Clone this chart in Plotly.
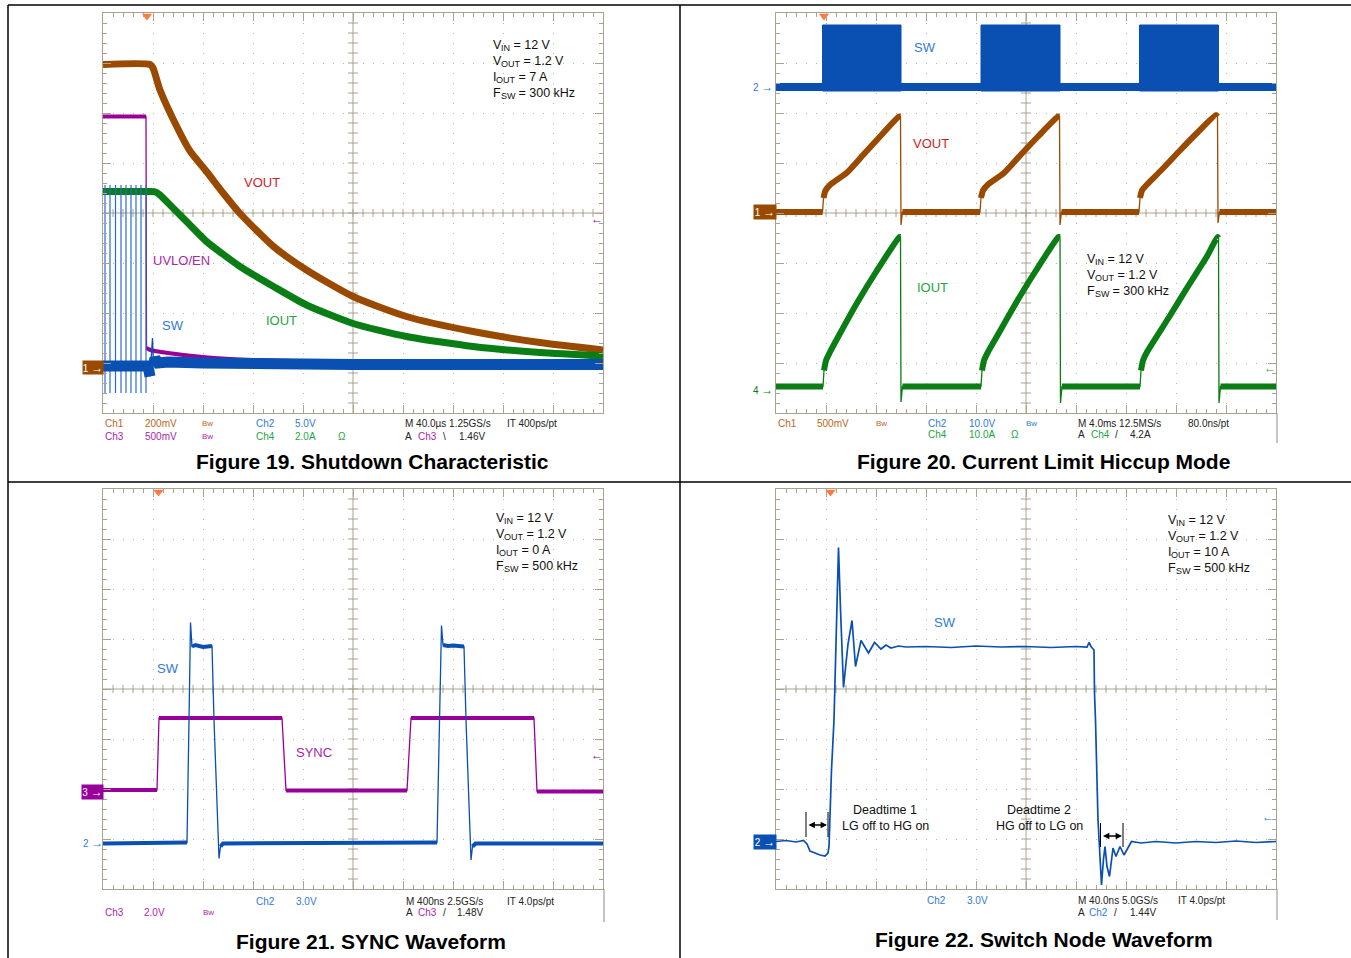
import plotly.graph_objects as go

W, H = 1351, 958
FONT = "Arial, 'Liberation Sans', sans-serif"

# ---------------- colours ----------------
BROWN = "#9a4a00"
PURPLE = "#990099"
GREEN = "#0a7d14"
BLUE = "#0a4fb2"
GRAT = "#aaa38f"
GRIDDOT = "#b9b3a2"
L_BROWN = "#c0651c"
L_BLUE = "#2f7ad6"
L_PURPLE = "#a926a9"
L_GREEN = "#23a441"
L_RED = "#cc1f1f"

# ---------------- data (scope divisions: time 0..10, amplitude 0..8) ----------------
# Figure 19 - shutdown characteristic
f19_vout_t = [0, 0.94, 1.0, 1.14, 1.5, 1.74, 2.07, 2.41, 2.74, 3.41, 4.07, 5.0, 6.07, 7.4, 8.74, 10]
f19_vout_v = [6.97, 6.97, 6.9, 6.46, 5.68, 5.24, 4.83, 4.39, 3.99, 3.33, 2.86, 2.33, 1.93, 1.63, 1.41, 1.26]
f19_iout_t = [0, 0.95, 1.05, 1.14, 1.41, 1.74, 2.07, 2.74, 3.41, 4.07, 5.0, 6.07, 7.4, 8.74, 10]
f19_iout_v = [4.43, 4.43, 4.42, 4.36, 4.09, 3.76, 3.43, 2.93, 2.53, 2.16, 1.79, 1.53, 1.33, 1.21, 1.14]
f19_en_t = [0, 0.86, 0.87, 0.95, 1.3, 2.0, 3.0, 5.0, 10]
f19_en_v = [5.93, 5.93, 1.3, 1.26, 1.2, 1.12, 1.06, 1.02, 1.0]
f19_sw_t = [0, 0.9, 0.94, 0.99, 1.01, 1.04, 1.1, 1.3, 2.0, 3.5, 5.0, 10]
f19_sw_v = [0.94, 0.94, 0.73, 1.5, 0.95, 1.1, 1.0, 1.02, 1.0, 0.98, 0.97, 0.97]
f19_pulse_t = [0.04, 0.14, 0.25, 0.36, 0.46, 0.56, 0.66, 0.76, 0.86]
f19_pulse_hi = 4.56
f19_pulse_lo = 0.4

# Figure 20 - current limit hiccup mode
f20_sw_on = [0.93, 4.1, 7.27]
f20_sw_off = [2.5, 5.68, 8.85]
f20_sw_top = 7.76
f20_sw_bottom = 6.44
f20_sw_base = 6.52
f20_vout_t = [0, 0.93, 0.95, 0.99, 1.1, 1.41, 1.75, 2.08, 2.46, 2.49, 2.50, 2.53,
              4.08, 4.10, 4.14, 4.25, 4.56, 4.90, 5.24, 5.64, 5.67, 5.68, 5.71,
              7.26, 7.28, 7.32, 7.43, 7.70, 8.05, 8.41, 8.80, 8.83, 8.84, 8.87, 10]
f20_vout_v = [4.02, 4.02, 4.3, 4.45, 4.58, 4.8, 5.17, 5.53, 5.93, 5.93, 3.76, 4.02,
              4.02, 4.3, 4.45, 4.58, 4.8, 5.17, 5.53, 5.93, 5.93, 3.76, 4.02,
              4.02, 4.3, 4.45, 4.58, 4.85, 5.22, 5.59, 5.96, 5.93, 3.8, 4.02, 4.02]
f20_iout_t = [0, 0.94, 0.96, 1.0, 1.08, 1.23, 1.62, 2.0, 2.47, 2.49, 2.50, 2.53,
              4.10, 4.12, 4.16, 4.24, 4.40, 4.80, 5.18, 5.65, 5.68, 5.69, 5.72,
              7.28, 7.30, 7.34, 7.42, 7.85, 8.25, 8.63, 8.83, 8.85, 8.86, 8.89, 10]
f20_iout_v = [0.53, 0.53, 0.85, 1.05, 1.22, 1.5, 2.2, 2.82, 3.52, 3.52, 0.22, 0.53,
              0.53, 0.85, 1.05, 1.22, 1.5, 2.2, 2.82, 3.52, 3.52, 0.2, 0.53,
              0.53, 0.85, 1.05, 1.22, 1.9, 2.55, 3.15, 3.52, 3.5, 0.2, 0.53, 0.53]

# Figure 21 - SYNC waveform
f21_sync_t = [0, 1.08, 1.12, 3.58, 3.66, 6.08, 6.16, 8.62, 8.68, 10]
f21_sync_v = [1.98, 1.98, 3.42, 3.42, 1.97, 1.97, 3.42, 3.42, 1.95, 1.95]
f21_sw_t = [0, 1.68, 1.72, 1.75, 1.78, 1.85, 2.0, 2.18, 2.22, 2.32, 2.35, 2.4,
            6.68, 6.73, 6.77, 6.80, 6.9, 7.0, 7.22, 7.26, 7.36, 7.39, 7.45, 10]
f21_sw_v = [0.91, 0.93, 3.38, 5.33, 4.85, 4.88, 4.84, 4.86, 3.38, 0.61, 0.85, 0.91,
            0.93, 3.38, 5.27, 4.88, 4.86, 4.87, 4.85, 3.38, 0.58, 0.85, 0.91, 0.91]

# Figure 22 - switch node waveform
f22_sw_t = [0, 0.2, 0.4, 0.55, 0.62, 0.68, 0.78, 0.88, 0.98, 1.04,
            1.06, 1.11, 1.16, 1.21, 1.25, 1.29, 1.35, 1.44, 1.52, 1.59,
            1.70, 1.85, 1.97, 2.1, 2.2, 2.3, 2.45, 2.6, 3.0, 3.5,
            4.0, 4.5, 5.0, 5.5, 6.0, 6.22, 6.26, 6.30, 6.36, 6.37,
            6.39, 6.44, 6.49, 6.51, 6.55, 6.58, 6.62, 6.67, 6.74, 6.80,
            6.88, 6.96, 7.11, 7.3, 7.6, 8.0, 8.4, 8.8, 9.2, 9.6, 10]
f22_sw_v = [0.95, 0.97, 0.94, 0.97, 0.9, 0.76, 0.72, 0.68, 0.66, 0.72,
            0.85, 2.38, 3.38, 5.52, 6.83, 5.6, 4.03, 4.9, 5.37, 4.45,
            4.97, 4.72, 4.93, 4.8, 4.88, 4.82, 4.86, 4.84, 4.85, 4.83,
            4.86, 4.84, 4.85, 4.83, 4.85, 4.84, 4.93, 4.85, 4.78, 3.92,
            3.38, 1.38, 0.58, 0.08, 0.6, 0.85, 0.45, 0.25, 0.82, 0.65,
            0.85, 0.68, 0.95, 0.92, 0.95, 0.92, 0.95, 0.93, 0.96, 0.93, 0.95]

trigger_t = [0.88, 0.96, 1.11, 1.09]

# ---------------- layout helpers ----------------
PANELS = [(103, 13), (776, 13), (103, 489), (776, 489)]  # left, top pixel of each graticule
PW, PH = 500, 400


def P(x, y):
    return x / W, 1 - y / H


def sfx(k):
    return '' if k == 1 else str(k)


fig = go.Figure()


def axis_style(rng):
    return dict(range=rng, showgrid=True, gridcolor=GRIDDOT, griddash='1px,9px', gridwidth=1,
                dtick=1, tick0=0, ticks='inside', ticklen=8, tickwidth=1, tickcolor=GRAT,
                showline=True, linecolor=GRAT, linewidth=1.3, mirror='ticks',
                showticklabels=False, zeroline=False, fixedrange=True,
                minor=dict(dtick=0.2, tick0=0, ticks='inside', ticklen=4, tickwidth=1,
                           tickcolor=GRAT, showgrid=False))


for k, (lx, ty) in enumerate(PANELS, start=1):
    xd = [lx / W, (lx + PW) / W]
    yd = [1 - (ty + PH) / H, 1 - ty / H]
    fig.update_layout(**{
        'xaxis' + sfx(k): dict(domain=xd, anchor='y' + sfx(k), **axis_style([0, 10])),
        'yaxis' + sfx(k): dict(domain=yd, anchor='x' + sfx(k), **axis_style([0, 8])),
    })
    # centre cross of the graticule with its fine ticks
    gx, gy = [0, 10, None, 5, 5, None], [4, 4, None, 0, 8, None]
    for i in range(1, 50):
        gx += [i * 0.2, i * 0.2, None]
        gy += [4 - 0.08, 4 + 0.08, None]
    for j in range(1, 40):
        gx += [5 - 0.1, 5 + 0.1, None]
        gy += [j * 0.2, j * 0.2, None]
    fig.add_trace(go.Scatter(x=gx, y=gy, mode='lines', line=dict(color=GRAT, width=1),
                             xaxis='x' + sfx(k), yaxis='y' + sfx(k), hoverinfo='skip',
                             showlegend=False))


def add_line(t, v, color, width, k, fill=None, shape='linear'):
    fig.add_trace(go.Scatter(x=t, y=v, mode='lines',
                             line=dict(color=color, width=width, shape=shape,
                                       smoothing=0.6 if shape == 'spline' else None),
                             fill=fill, fillcolor=color if fill else None,
                             xaxis='x' + sfx(k), yaxis='y' + sfx(k), hoverinfo='skip',
                             showlegend=False))


def add_wave(t, v, color, thick, k, thin=1.3, steep=6.0, shape='linear'):
    """thin trace over the whole record, thick band broken at the fast edges"""
    add_line(t, v, color, thin, k)
    xs, ys = [t[0]], [v[0]]
    for i in range(1, len(t)):
        dt = t[i] - t[i - 1]
        dv = abs(v[i] - v[i - 1])
        if dt <= 0 or dv / dt > steep:
            xs.append(None)
            ys.append(None)
        xs.append(t[i])
        ys.append(v[i])
    add_line(xs, ys, color, thick, k, shape=shape)


# ---------------- Figure 19 ----------------
add_wave(f19_en_t, f19_en_v, PURPLE, 4, 1, shape='spline')
add_wave(f19_vout_t, f19_vout_v, BROWN, 7, 1, shape='spline')
add_wave(f19_iout_t, f19_iout_v, GREEN, 7, 1, shape='spline')
px, py = [], []
for t in f19_pulse_t:
    px += [t, t, None]
    py += [f19_pulse_lo, f19_pulse_hi, None]
add_line(px, py, "#2a6ad0", 1.2, 1)
add_wave(f19_sw_t, f19_sw_v, BLUE, 11, 1, steep=12)

# ---------------- Figure 20 ----------------
add_line([0, 10], [f20_sw_base, f20_sw_base], BLUE, 8, 2)
bx, by = [], []
for a, b in zip(f20_sw_on, f20_sw_off):
    bx += [a, a, b, b, a, None]
    by += [f20_sw_bottom, f20_sw_top, f20_sw_top, f20_sw_bottom, f20_sw_bottom, None]
add_line(bx, by, BLUE, 1, 2, fill='toself')
add_wave(f20_vout_t, f20_vout_v, BROWN, 6, 2, shape='spline')
add_wave(f20_iout_t, f20_iout_v, GREEN, 6, 2, shape='spline')

# ---------------- Figure 21 ----------------
add_wave(f21_sync_t, f21_sync_v, PURPLE, 4, 3)
add_wave(f21_sw_t, f21_sw_v, BLUE, 4, 3)

# ---------------- Figure 22 ----------------
add_line(f22_sw_t, f22_sw_v, BLUE, 1.7, 4)

# trigger position markers
for k, t in enumerate(trigger_t, start=1):
    fig.add_trace(go.Scatter(x=[t], y=[7.94], mode='markers',
                             marker=dict(symbol='triangle-down', size=9, color='#ff7a3c'),
                             xaxis='x' + sfx(k), yaxis='y' + sfx(k), cliponaxis=False,
                             hoverinfo='skip', showlegend=False))

# ---------------- annotations ----------------
ann = []


def text(x, y, s, color='black', size=10, anchor='left', bold=False, **kw):
    xx, yy = P(x, y)
    d = dict(x=xx, y=yy, xref='paper', yref='paper', text=('<b>%s</b>' % s) if bold else s,
             showarrow=False, xanchor=anchor, yanchor='middle',
             font=dict(family=FONT, size=size, color=color))
    d.update(kw)
    ann.append(d)


# waveform labels
text(262, 182, 'VOUT', L_RED, 13, 'center')
text(181, 260, 'UVLO/EN', L_PURPLE, 13, 'center')
text(173, 326, 'SW', L_BLUE, 13, 'center')
text(281, 320, 'IOUT', L_GREEN, 13, 'center')
text(925, 47, 'SW', L_BLUE, 13, 'center')
text(931, 143, 'VOUT', L_RED, 13, 'center')
text(932, 287, 'IOUT', L_GREEN, 13, 'center')
text(168, 668, 'SW', L_BLUE, 13, 'center')
text(314, 752, 'SYNC', L_PURPLE, 13, 'center')
text(945, 622, 'SW', L_BLUE, 13, 'center')

# operating conditions (subscripts set as separate smaller texts)
EM = {'V': .667, 'I': .278, 'F': .611, 'N': .722, 'O': .778, 'U': .722, 'T': .611,
      'S': .667, 'W': .944}
MAIN, SUB = 12.5, 9


def cond(x, y, sym, sub, rest):
    text(x, y, sym, '#111111', MAIN)
    x1 = x + EM[sym] * MAIN
    text(x1, y + 3, sub, '#111111', SUB)
    x2 = x1 + sum(EM[c] for c in sub) * SUB
    text(x2, y, rest, '#111111', MAIN)


for x0, ys, lines in [
    (491, [45, 61, 77, 93], [('V', 'IN', '= 12 V'), ('V', 'OUT', '= 1.2 V'),
                             ('I', 'OUT', '= 7 A'), ('F', 'SW', '= 300 kHz')]),
    (1085, [259, 275, 291], [('V', 'IN', '= 12 V'), ('V', 'OUT', '= 1.2 V'),
                             ('F', 'SW', '= 300 kHz')]),
    (494, [518, 534, 550, 566], [('V', 'IN', '= 12 V'), ('V', 'OUT', '= 1.2 V'),
                                 ('I', 'OUT', '= 0 A'), ('F', 'SW', '= 500 kHz')]),
    (1166, [520, 536, 552, 568], [('V', 'IN', '= 12 V'), ('V', 'OUT', '= 1.2 V'),
                                  ('I', 'OUT', '= 10 A'), ('F', 'SW', '= 500 kHz')]),
]:
    for yy, (a, b, c) in zip(ys, lines):
        cond(x0, yy, a, b, '\u00a0' + c)

# deadtime annotations
text(885, 810, 'Deadtime 1', '#111111', 12.5, 'center')
text(885, 826, 'LG off to HG on', '#111111', 12.5, 'center')
text(1039, 810, 'Deadtime 2', '#111111', 12.5, 'center')
text(1039, 826, 'HG off to LG on', '#111111', 12.5, 'center')
for xa, xb, ya, yb, yarr in [(806, 828, 812, 837, 825), (1100.5, 1123, 823, 847, 836)]:
    for xx in (xa, xb):
        x0, y0 = P(xx, ya)
        x1, y1 = P(xx, yb)
        fig.add_shape(type='line', xref='paper', yref='paper', x0=x0, y0=y0, x1=x1, y1=y1,
                      line=dict(color='black', width=1))
    hx, hy = P(xb - 1, yarr)
    ann.append(dict(x=hx, y=hy, xref='paper', yref='paper', ax=-(xb - xa - 2), ay=0,
                    text='', showarrow=True, arrowhead=2, arrowsize=0.8, arrowwidth=1.6,
                    arrowside='end+start', arrowcolor='black'))


# channel ground markers (left)
def marker_box(x, y, s, bg, w=20, h=13):
    xx, yy = P(x, y)
    ann.append(dict(x=xx, y=yy, xref='paper', yref='paper', text=s, showarrow=False,
                    xanchor='center', yanchor='middle', bgcolor=bg, width=w, height=h,
                    borderpad=0, font=dict(family=FONT, size=10, color='white')))


ARW = "<span style='font-size:12px'>→</span>"
marker_box(93, 367, '1 ' + ARW, BROWN)
marker_box(765, 212, '1 ' + ARW, BROWN, 22, 14)
marker_box(92.5, 792, '3 ' + ARW, PURPLE, 21, 14)
marker_box(765, 842, '2 ' + ARW, BLUE, 22, 14)
text(763, 87, '2 ' + ARW, L_BLUE, 10, 'center')
text(763, 390, '4 ' + ARW, GREEN, 10, 'center')
text(93, 843, '2 ' + ARW, L_BLUE, 10, 'center')

# right-hand level arrows
text(597, 219, '←', PURPLE, 12, 'center')
text(1270, 368, '←', L_GREEN, 12, 'center')
text(597, 755, '←', PURPLE, 12, 'center')
text(1268, 817, '←', L_BLUE, 12, 'center')

# scope readout rows
S = 10
rows = [
    # figure 19
    (423, [(103, 'Ch1', L_BROWN), (143, '200mV', L_BROWN), (200, 'Bw', L_BROWN),
           (254, 'Ch2', L_BLUE), (293, '5.0V', L_BLUE),
           (403, 'M 40.0µs 1.25GS/s', '#222222'), (505, 'IT 400ps/pt', '#222222')]),
    (436, [(103, 'Ch3', L_PURPLE), (143, '500mV', L_PURPLE), (200, 'Bw', L_PURPLE),
           (254, 'Ch4', L_GREEN), (293, '2.0A', L_GREEN), (336, 'Ω', L_GREEN),
           (403, 'A', '#222222'), (416, 'Ch3', L_PURPLE), (441, '\\', '#222222'),
           (457, '1.46V', '#222222')]),
    # figure 20
    (423, [(776, 'Ch1', L_BROWN), (815, '500mV', L_BROWN), (874, 'Bw', L_BROWN),
           (926, 'Ch2', L_BLUE), (967, '10.0V', L_BLUE), (1024, 'Bw', L_BLUE),
           (1076, 'M 4.0ms 12.5MS/s', '#222222'), (1186, '80.0ns/pt', '#222222')]),
    (435, [(926, 'Ch4', L_GREEN), (967, '10.0A', L_GREEN), (1009, 'Ω', L_GREEN),
           (1076, 'A', '#222222'), (1089, 'Ch4', L_GREEN), (1113, '/', '#222222'),
           (1128, '4.2A', '#222222')]),
    # figure 21
    (901, [(254, 'Ch2', L_BLUE), (294, '3.0V', L_BLUE),
           (404, 'M 400ns 2.5GS/s', '#222222'), (505, 'IT 4.0ps/pt', '#222222')]),
    (912, [(103, 'Ch3', L_PURPLE), (142, '2.0V', L_PURPLE), (201, 'Bw', L_PURPLE),
           (404, 'A', '#222222'), (416, 'Ch3', L_PURPLE), (441, '/', '#222222'),
           (455, '1.48V', '#222222')]),
    # figure 22
    (900, [(925, 'Ch2', L_BLUE), (965, '3.0V', L_BLUE),
           (1076, 'M 40.0ns 5.0GS/s', '#222222'), (1176, 'IT 4.0ps/pt', '#222222')]),
    (912, [(1076, 'A', '#222222'), (1087, 'Ch2', L_BLUE), (1112, '/', '#222222'),
           (1128, '1.44V', '#222222')]),
]
for yy, items in rows:
    for xx, s, c in items:
        text(xx, yy, s, c, 8 if s == 'Bw' else S)

# captions
text(372, 462, 'Figure 19. Shutdown Characteristic', 'black', 21, 'center', bold=True)
text(1043, 462, 'Figure 20. Current Limit Hiccup Mode', 'black', 21, 'center', bold=True)
text(371, 941, 'Figure 21. SYNC Waveform', 'black', 21, 'center', bold=True)
text(1044, 939, 'Figure 22. Switch Node Waveform', 'black', 21, 'center', bold=True)

# page frame and scope screenshot edges
for (xa, ya, xb, yb, c, w) in [(8, 5, 1351, 5, 'black', 1.5), (8, 482, 1351, 482, 'black', 1.5),
                                (8, 5, 8, 958, 'black', 1.5), (680, 5, 680, 958, 'black', 1.5),
                                (1277, 413, 1277, 443, '#8a8a8a', 1), (604, 889, 604, 922, '#8a8a8a', 1),
                                (1277, 889, 1277, 920, '#8a8a8a', 1)]:
    x0, y0 = P(xa, ya)
    x1, y1 = P(xb, yb)
    fig.add_shape(type='line', xref='paper', yref='paper', x0=x0, y0=y0, x1=x1, y1=y1,
                  line=dict(color=c, width=w))

fig.update_layout(width=W, height=H, margin=dict(l=0, r=0, t=0, b=0),
                  paper_bgcolor='white', plot_bgcolor='white', showlegend=False,
                  annotations=ann, font=dict(family=FONT))

fig.write_html("out.html", config={'displayModeBar': False},
               post_script="document.body.style.margin='0';document.body.style.overflow='hidden';")
